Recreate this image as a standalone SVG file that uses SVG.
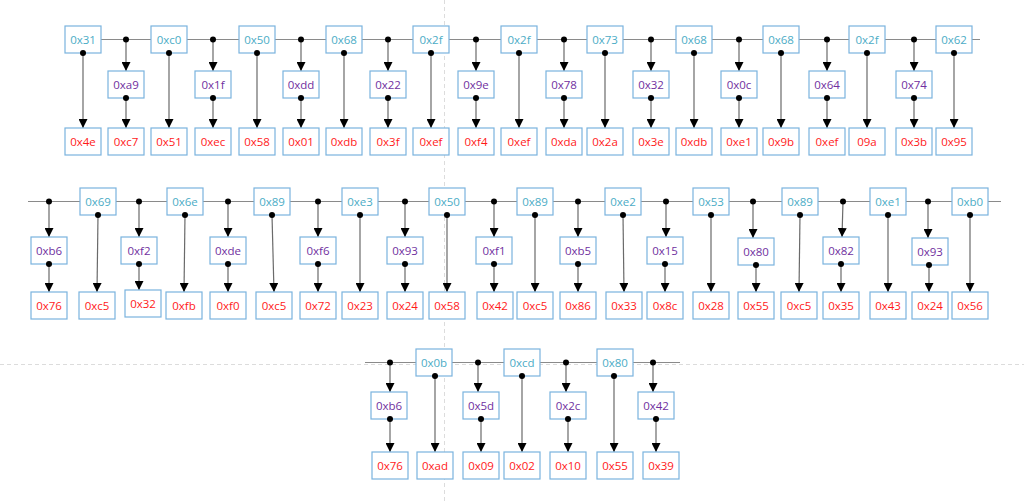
<svg xmlns="http://www.w3.org/2000/svg" width="1024" height="503" viewBox="0 0 1024 503">
<style>
.b{fill:#fff;stroke:#7ab3de;stroke-width:1.2}
text{font-family:"Open Sans","Noto Sans",sans-serif;font-size:11.5px;text-anchor:middle}
.t1{fill:#4bacc6}.t2{fill:#7030a0}.t3{fill:#ff1a1a}
.h{stroke:#8a8a8a;stroke-width:1.2;fill:none}
.v{stroke:#6a6a6a;stroke-width:1.2;fill:none;marker-end:url(#ah)}
.g{stroke:#dcdcdc;stroke-width:1;stroke-dasharray:4 3;fill:none}
.d{fill:#000}
</style>
<defs>
<marker id="ah" markerUnits="userSpaceOnUse" markerWidth="10" markerHeight="9" refX="9" refY="4.5" orient="auto"><path d="M0,0 L9,4.5 L0,9 z" fill="#000"/></marker>
</defs>
<rect width="1024" height="503" fill="#fff"/>
<g id="guides">
<line class="g" x1="444.5" y1="0" x2="444.5" y2="503"/>
<line class="g" x1="0" y1="364.5" x2="1024" y2="364.5"/>
</g>
<g id="connectors">
<line class="h" x1="100" y1="39.5" x2="980" y2="39.5"/>
<line class="h" x1="28" y1="201.5" x2="1001" y2="201.5"/>
<line class="h" x1="365" y1="362.5" x2="680" y2="362.5"/>
<line class="v" x1="83" y1="53" x2="83" y2="128"/>
<line class="v" x1="169" y1="53" x2="169" y2="128"/>
<line class="v" x1="257" y1="53" x2="257" y2="128"/>
<line class="v" x1="344" y1="53" x2="344" y2="128"/>
<line class="v" x1="431" y1="53" x2="431" y2="128"/>
<line class="v" x1="519" y1="53" x2="519" y2="128"/>
<line class="v" x1="605" y1="53" x2="605" y2="128"/>
<line class="v" x1="694" y1="53" x2="694" y2="128"/>
<line class="v" x1="781" y1="53" x2="781" y2="128"/>
<line class="v" x1="867" y1="53" x2="867" y2="128"/>
<line class="v" x1="954" y1="53" x2="954" y2="128"/>
<line class="v" x1="126" y1="39.5" x2="126" y2="71"/><line class="v" x1="126" y1="98" x2="126" y2="128"/>
<line class="v" x1="213" y1="39.5" x2="213" y2="71"/><line class="v" x1="213" y1="98" x2="213" y2="128"/>
<line class="v" x1="301" y1="39.5" x2="301" y2="71"/><line class="v" x1="301" y1="98" x2="301" y2="128"/>
<line class="v" x1="388" y1="39.5" x2="388" y2="71"/><line class="v" x1="388" y1="98" x2="388" y2="128"/>
<line class="v" x1="476" y1="39.5" x2="476" y2="71"/><line class="v" x1="476" y1="98" x2="476" y2="128"/>
<line class="v" x1="564" y1="39.5" x2="564" y2="71"/><line class="v" x1="564" y1="98" x2="564" y2="128"/>
<line class="v" x1="651" y1="39.5" x2="651" y2="71"/><line class="v" x1="651" y1="98" x2="651" y2="128"/>
<line class="v" x1="739" y1="39.5" x2="739" y2="71"/><line class="v" x1="739" y1="98" x2="739" y2="128"/>
<line class="v" x1="827" y1="39.5" x2="827" y2="71"/><line class="v" x1="827" y1="98" x2="827" y2="128"/>
<line class="v" x1="914" y1="39.5" x2="914" y2="71"/><line class="v" x1="914" y1="98" x2="914" y2="128"/>
<line class="v" x1="98" y1="215" x2="97" y2="292"/>
<line class="v" x1="185" y1="215" x2="184" y2="292"/>
<line class="v" x1="272" y1="215" x2="274" y2="292"/>
<line class="v" x1="360" y1="215" x2="360" y2="292"/>
<line class="v" x1="447" y1="215" x2="447" y2="292"/>
<line class="v" x1="535" y1="215" x2="535" y2="292"/>
<line class="v" x1="623" y1="215" x2="624" y2="292"/>
<line class="v" x1="711" y1="215" x2="711" y2="292"/>
<line class="v" x1="800" y1="215" x2="799" y2="292"/>
<line class="v" x1="888" y1="215" x2="888" y2="292"/>
<line class="v" x1="970" y1="215" x2="970" y2="292"/>
<line class="v" x1="49" y1="201.5" x2="49" y2="237"/><line class="v" x1="49" y1="264" x2="49" y2="292"/>
<line class="v" x1="139" y1="201.5" x2="139" y2="237"/><line class="v" x1="139" y1="264" x2="139" y2="290"/>
<line class="v" x1="228" y1="201.5" x2="228" y2="237"/><line class="v" x1="228" y1="264" x2="228" y2="292"/>
<line class="v" x1="318" y1="201.5" x2="318" y2="237"/><line class="v" x1="318" y1="264" x2="318" y2="292"/>
<line class="v" x1="405" y1="201.5" x2="405" y2="237"/><line class="v" x1="405" y1="264" x2="405" y2="292"/>
<line class="v" x1="494" y1="201.5" x2="494" y2="237"/><line class="v" x1="494" y1="264" x2="494" y2="292"/>
<line class="v" x1="578" y1="201.5" x2="578" y2="237"/><line class="v" x1="578" y1="264" x2="578" y2="292"/>
<line class="v" x1="666" y1="201.5" x2="666" y2="237"/><line class="v" x1="665" y1="264" x2="665" y2="292"/>
<line class="v" x1="753" y1="201.5" x2="753" y2="238"/><line class="v" x1="756" y1="265" x2="756" y2="292"/>
<line class="v" x1="843" y1="201.5" x2="842" y2="237"/><line class="v" x1="841" y1="264" x2="841" y2="292"/>
<line class="v" x1="928" y1="201.5" x2="928" y2="238"/><line class="v" x1="929" y1="265" x2="929" y2="292"/>
<line class="v" x1="435" y1="376" x2="435" y2="452"/>
<line class="v" x1="522" y1="376" x2="522" y2="452"/>
<line class="v" x1="614" y1="376" x2="614" y2="452"/>
<line class="v" x1="390" y1="362.5" x2="390" y2="392"/><line class="v" x1="390" y1="419" x2="390" y2="452"/>
<line class="v" x1="478" y1="362.5" x2="478" y2="392"/><line class="v" x1="481" y1="419" x2="481" y2="452"/>
<line class="v" x1="566" y1="362.5" x2="566" y2="392"/><line class="v" x1="568" y1="419" x2="568" y2="452"/>
<line class="v" x1="653" y1="362.5" x2="653" y2="392"/><line class="v" x1="656" y1="419" x2="656" y2="452"/>
</g>
<g id="nodes">
<g id="r1t0"><rect class="b" x="65" y="26" width="36" height="27"/><text class="t1" x="83" y="43.5">0x31</text></g>
<g id="r1t1"><rect class="b" x="151" y="26" width="36" height="27"/><text class="t1" x="169" y="43.5">0xc0</text></g>
<g id="r1t2"><rect class="b" x="239" y="26" width="36" height="27"/><text class="t1" x="257" y="43.5">0x50</text></g>
<g id="r1t3"><rect class="b" x="326" y="26" width="36" height="27"/><text class="t1" x="344" y="43.5">0x68</text></g>
<g id="r1t4"><rect class="b" x="413" y="26" width="36" height="27"/><text class="t1" x="431" y="43.5">0x2f</text></g>
<g id="r1t5"><rect class="b" x="501" y="26" width="36" height="27"/><text class="t1" x="519" y="43.5">0x2f</text></g>
<g id="r1t6"><rect class="b" x="587" y="26" width="36" height="27"/><text class="t1" x="605" y="43.5">0x73</text></g>
<g id="r1t7"><rect class="b" x="676" y="26" width="36" height="27"/><text class="t1" x="694" y="43.5">0x68</text></g>
<g id="r1t8"><rect class="b" x="763" y="26" width="36" height="27"/><text class="t1" x="781" y="43.5">0x68</text></g>
<g id="r1t9"><rect class="b" x="849" y="26" width="36" height="27"/><text class="t1" x="867" y="43.5">0x2f</text></g>
<g id="r1t10"><rect class="b" x="936" y="26" width="36" height="27"/><text class="t1" x="954" y="43.5">0x62</text></g>
<g id="r1m0"><rect class="b" x="108" y="71" width="36" height="27"/><text class="t2" x="126" y="88.5">0xa9</text></g>
<g id="r1m1"><rect class="b" x="195" y="71" width="36" height="27"/><text class="t2" x="213" y="88.5">0x1f</text></g>
<g id="r1m2"><rect class="b" x="283" y="71" width="36" height="27"/><text class="t2" x="301" y="88.5">0xdd</text></g>
<g id="r1m3"><rect class="b" x="370" y="71" width="36" height="27"/><text class="t2" x="388" y="88.5">0x22</text></g>
<g id="r1m4"><rect class="b" x="458" y="71" width="36" height="27"/><text class="t2" x="476" y="88.5">0x9e</text></g>
<g id="r1m5"><rect class="b" x="546" y="71" width="36" height="27"/><text class="t2" x="564" y="88.5">0x78</text></g>
<g id="r1m6"><rect class="b" x="633" y="71" width="36" height="27"/><text class="t2" x="651" y="88.5">0x32</text></g>
<g id="r1m7"><rect class="b" x="721" y="71" width="36" height="27"/><text class="t2" x="739" y="88.5">0x0c</text></g>
<g id="r1m8"><rect class="b" x="809" y="71" width="36" height="27"/><text class="t2" x="827" y="88.5">0x64</text></g>
<g id="r1m9"><rect class="b" x="896" y="71" width="36" height="27"/><text class="t2" x="914" y="88.5">0x74</text></g>
<g id="r1b0"><rect class="b" x="65" y="128" width="36" height="27"/><text class="t3" x="83" y="145.5">0x4e</text></g>
<g id="r1b1"><rect class="b" x="108" y="128" width="36" height="27"/><text class="t3" x="126" y="145.5">0xc7</text></g>
<g id="r1b2"><rect class="b" x="151" y="128" width="36" height="27"/><text class="t3" x="169" y="145.5">0x51</text></g>
<g id="r1b3"><rect class="b" x="195" y="128" width="36" height="27"/><text class="t3" x="213" y="145.5">0xec</text></g>
<g id="r1b4"><rect class="b" x="239" y="128" width="36" height="27"/><text class="t3" x="257" y="145.5">0x58</text></g>
<g id="r1b5"><rect class="b" x="283" y="128" width="36" height="27"/><text class="t3" x="301" y="145.5">0x01</text></g>
<g id="r1b6"><rect class="b" x="326" y="128" width="36" height="27"/><text class="t3" x="344" y="145.5">0xdb</text></g>
<g id="r1b7"><rect class="b" x="370" y="128" width="36" height="27"/><text class="t3" x="388" y="145.5">0x3f</text></g>
<g id="r1b8"><rect class="b" x="413" y="128" width="36" height="27"/><text class="t3" x="431" y="145.5">0xef</text></g>
<g id="r1b9"><rect class="b" x="458" y="128" width="36" height="27"/><text class="t3" x="476" y="145.5">0xf4</text></g>
<g id="r1b10"><rect class="b" x="501" y="128" width="36" height="27"/><text class="t3" x="519" y="145.5">0xef</text></g>
<g id="r1b11"><rect class="b" x="546" y="128" width="36" height="27"/><text class="t3" x="564" y="145.5">0xda</text></g>
<g id="r1b12"><rect class="b" x="587" y="128" width="36" height="27"/><text class="t3" x="605" y="145.5">0x2a</text></g>
<g id="r1b13"><rect class="b" x="633" y="128" width="36" height="27"/><text class="t3" x="651" y="145.5">0x3e</text></g>
<g id="r1b14"><rect class="b" x="676" y="128" width="36" height="27"/><text class="t3" x="694" y="145.5">0xdb</text></g>
<g id="r1b15"><rect class="b" x="721" y="128" width="36" height="27"/><text class="t3" x="739" y="145.5">0xe1</text></g>
<g id="r1b16"><rect class="b" x="763" y="128" width="36" height="27"/><text class="t3" x="781" y="145.5">0x9b</text></g>
<g id="r1b17"><rect class="b" x="809" y="128" width="36" height="27"/><text class="t3" x="827" y="145.5">0xef</text></g>
<g id="r1b18"><rect class="b" x="849" y="128" width="36" height="27"/><text class="t3" x="867" y="145.5">09a</text></g>
<g id="r1b19"><rect class="b" x="896" y="128" width="36" height="27"/><text class="t3" x="914" y="145.5">0x3b</text></g>
<g id="r1b20"><rect class="b" x="936" y="128" width="36" height="27"/><text class="t3" x="954" y="145.5">0x95</text></g>
<g id="r2t0"><rect class="b" x="80" y="188" width="36" height="27"/><text class="t1" x="98" y="205.5">0x69</text></g>
<g id="r2t1"><rect class="b" x="167" y="188" width="36" height="27"/><text class="t1" x="185" y="205.5">0x6e</text></g>
<g id="r2t2"><rect class="b" x="254" y="188" width="36" height="27"/><text class="t1" x="272" y="205.5">0x89</text></g>
<g id="r2t3"><rect class="b" x="342" y="188" width="36" height="27"/><text class="t1" x="360" y="205.5">0xe3</text></g>
<g id="r2t4"><rect class="b" x="429" y="188" width="36" height="27"/><text class="t1" x="447" y="205.5">0x50</text></g>
<g id="r2t5"><rect class="b" x="517" y="188" width="36" height="27"/><text class="t1" x="535" y="205.5">0x89</text></g>
<g id="r2t6"><rect class="b" x="605" y="188" width="36" height="27"/><text class="t1" x="623" y="205.5">0xe2</text></g>
<g id="r2t7"><rect class="b" x="693" y="188" width="36" height="27"/><text class="t1" x="711" y="205.5">0x53</text></g>
<g id="r2t8"><rect class="b" x="782" y="188" width="36" height="27"/><text class="t1" x="800" y="205.5">0x89</text></g>
<g id="r2t9"><rect class="b" x="870" y="188" width="36" height="27"/><text class="t1" x="888" y="205.5">0xe1</text></g>
<g id="r2t10"><rect class="b" x="952" y="188" width="36" height="27"/><text class="t1" x="970" y="205.5">0xb0</text></g>
<g id="r2m0"><rect class="b" x="31" y="237" width="36" height="27"/><text class="t2" x="49" y="254.5">0xb6</text></g>
<g id="r2m1"><rect class="b" x="121" y="237" width="36" height="27"/><text class="t2" x="139" y="254.5">0xf2</text></g>
<g id="r2m2"><rect class="b" x="210" y="237" width="36" height="27"/><text class="t2" x="228" y="254.5">0xde</text></g>
<g id="r2m3"><rect class="b" x="300" y="237" width="36" height="27"/><text class="t2" x="318" y="254.5">0xf6</text></g>
<g id="r2m4"><rect class="b" x="387" y="237" width="36" height="27"/><text class="t2" x="405" y="254.5">0x93</text></g>
<g id="r2m5"><rect class="b" x="476" y="237" width="36" height="27"/><text class="t2" x="494" y="254.5">0xf1</text></g>
<g id="r2m6"><rect class="b" x="560" y="237" width="36" height="27"/><text class="t2" x="578" y="254.5">0xb5</text></g>
<g id="r2m7"><rect class="b" x="647" y="237" width="36" height="27"/><text class="t2" x="665" y="254.5">0x15</text></g>
<g id="r2m8"><rect class="b" x="738" y="238" width="36" height="27"/><text class="t2" x="756" y="255.5">0x80</text></g>
<g id="r2m9"><rect class="b" x="823" y="237" width="36" height="27"/><text class="t2" x="841" y="254.5">0x82</text></g>
<g id="r2m10"><rect class="b" x="912" y="238" width="36" height="27"/><text class="t2" x="930" y="255.5">0x93</text></g>
<g id="r2b0"><rect class="b" x="31" y="292" width="36" height="27"/><text class="t3" x="49" y="309.5">0x76</text></g>
<g id="r2b1"><rect class="b" x="79" y="292" width="36" height="27"/><text class="t3" x="97" y="309.5">0xc5</text></g>
<g id="r2b2"><rect class="b" x="125" y="290" width="36" height="27"/><text class="t3" x="143" y="307.5">0x32</text></g>
<g id="r2b3"><rect class="b" x="166" y="292" width="36" height="27"/><text class="t3" x="184" y="309.5">0xfb</text></g>
<g id="r2b4"><rect class="b" x="210" y="292" width="36" height="27"/><text class="t3" x="228" y="309.5">0xf0</text></g>
<g id="r2b5"><rect class="b" x="256" y="292" width="36" height="27"/><text class="t3" x="274" y="309.5">0xc5</text></g>
<g id="r2b6"><rect class="b" x="300" y="292" width="36" height="27"/><text class="t3" x="318" y="309.5">0x72</text></g>
<g id="r2b7"><rect class="b" x="342" y="292" width="36" height="27"/><text class="t3" x="360" y="309.5">0x23</text></g>
<g id="r2b8"><rect class="b" x="387" y="292" width="36" height="27"/><text class="t3" x="405" y="309.5">0x24</text></g>
<g id="r2b9"><rect class="b" x="429" y="292" width="36" height="27"/><text class="t3" x="447" y="309.5">0x58</text></g>
<g id="r2b10"><rect class="b" x="477" y="292" width="36" height="27"/><text class="t3" x="495" y="309.5">0x42</text></g>
<g id="r2b11"><rect class="b" x="517" y="292" width="36" height="27"/><text class="t3" x="535" y="309.5">0xc5</text></g>
<g id="r2b12"><rect class="b" x="560" y="292" width="36" height="27"/><text class="t3" x="578" y="309.5">0x86</text></g>
<g id="r2b13"><rect class="b" x="606" y="292" width="36" height="27"/><text class="t3" x="624" y="309.5">0x33</text></g>
<g id="r2b14"><rect class="b" x="647" y="292" width="36" height="27"/><text class="t3" x="665" y="309.5">0x8c</text></g>
<g id="r2b15"><rect class="b" x="693" y="292" width="36" height="27"/><text class="t3" x="711" y="309.5">0x28</text></g>
<g id="r2b16"><rect class="b" x="738" y="292" width="36" height="27"/><text class="t3" x="756" y="309.5">0x55</text></g>
<g id="r2b17"><rect class="b" x="781" y="292" width="36" height="27"/><text class="t3" x="799" y="309.5">0xc5</text></g>
<g id="r2b18"><rect class="b" x="823" y="292" width="36" height="27"/><text class="t3" x="841" y="309.5">0x35</text></g>
<g id="r2b19"><rect class="b" x="870" y="292" width="36" height="27"/><text class="t3" x="888" y="309.5">0x43</text></g>
<g id="r2b20"><rect class="b" x="912" y="292" width="36" height="27"/><text class="t3" x="930" y="309.5">0x24</text></g>
<g id="r2b21"><rect class="b" x="952" y="292" width="36" height="27"/><text class="t3" x="970" y="309.5">0x56</text></g>
<g id="r3t0"><rect class="b" x="416" y="349" width="36" height="27"/><text class="t1" x="434" y="366.5">0x0b</text></g>
<g id="r3t1"><rect class="b" x="504" y="349" width="36" height="27"/><text class="t1" x="522" y="366.5">0xcd</text></g>
<g id="r3t2"><rect class="b" x="597" y="349" width="36" height="27"/><text class="t1" x="615" y="366.5">0x80</text></g>
<g id="r3m0"><rect class="b" x="371" y="392" width="36" height="27"/><text class="t2" x="389" y="409.5">0xb6</text></g>
<g id="r3m1"><rect class="b" x="463" y="392" width="36" height="27"/><text class="t2" x="481" y="409.5">0x5d</text></g>
<g id="r3m2"><rect class="b" x="550" y="392" width="36" height="27"/><text class="t2" x="568" y="409.5">0x2c</text></g>
<g id="r3m3"><rect class="b" x="638" y="392" width="36" height="27"/><text class="t2" x="656" y="409.5">0x42</text></g>
<g id="r3b0"><rect class="b" x="372" y="452" width="36" height="27"/><text class="t3" x="390" y="469.5">0x76</text></g>
<g id="r3b1"><rect class="b" x="417" y="452" width="36" height="27"/><text class="t3" x="435" y="469.5">0xad</text></g>
<g id="r3b2"><rect class="b" x="463" y="452" width="36" height="27"/><text class="t3" x="481" y="469.5">0x09</text></g>
<g id="r3b3"><rect class="b" x="504" y="452" width="36" height="27"/><text class="t3" x="522" y="469.5">0x02</text></g>
<g id="r3b4"><rect class="b" x="550" y="452" width="36" height="27"/><text class="t3" x="568" y="469.5">0x10</text></g>
<g id="r3b5"><rect class="b" x="597" y="452" width="36" height="27"/><text class="t3" x="615" y="469.5">0x55</text></g>
<g id="r3b6"><rect class="b" x="643" y="452" width="36" height="27"/><text class="t3" x="661" y="469.5">0x39</text></g>
</g>
<g id="dots">
<circle class="d" cx="83" cy="53" r="3"/><circle class="d" cx="169" cy="53" r="3"/><circle class="d" cx="257" cy="53" r="3"/><circle class="d" cx="344" cy="53" r="3"/><circle class="d" cx="431" cy="53" r="3"/><circle class="d" cx="519" cy="53" r="3"/><circle class="d" cx="605" cy="53" r="3"/><circle class="d" cx="694" cy="53" r="3"/><circle class="d" cx="781" cy="53" r="3"/><circle class="d" cx="867" cy="53" r="3"/><circle class="d" cx="954" cy="53" r="3"/>
<circle class="d" cx="126" cy="39.5" r="3"/><circle class="d" cx="213" cy="39.5" r="3"/><circle class="d" cx="301" cy="39.5" r="3"/><circle class="d" cx="388" cy="39.5" r="3"/><circle class="d" cx="476" cy="39.5" r="3"/><circle class="d" cx="564" cy="39.5" r="3"/><circle class="d" cx="651" cy="39.5" r="3"/><circle class="d" cx="739" cy="39.5" r="3"/><circle class="d" cx="827" cy="39.5" r="3"/><circle class="d" cx="914" cy="39.5" r="3"/>
<circle class="d" cx="126" cy="98" r="3"/><circle class="d" cx="213" cy="98" r="3"/><circle class="d" cx="301" cy="98" r="3"/><circle class="d" cx="388" cy="98" r="3"/><circle class="d" cx="476" cy="98" r="3"/><circle class="d" cx="564" cy="98" r="3"/><circle class="d" cx="651" cy="98" r="3"/><circle class="d" cx="739" cy="98" r="3"/><circle class="d" cx="827" cy="98" r="3"/><circle class="d" cx="914" cy="98" r="3"/>
<circle class="d" cx="98" cy="215" r="3"/><circle class="d" cx="185" cy="215" r="3"/><circle class="d" cx="272" cy="215" r="3"/><circle class="d" cx="360" cy="215" r="3"/><circle class="d" cx="447" cy="215" r="3"/><circle class="d" cx="535" cy="215" r="3"/><circle class="d" cx="623" cy="215" r="3"/><circle class="d" cx="711" cy="215" r="3"/><circle class="d" cx="800" cy="215" r="3"/><circle class="d" cx="888" cy="215" r="3"/><circle class="d" cx="970" cy="215" r="3"/>
<circle class="d" cx="49" cy="201.5" r="3"/><circle class="d" cx="139" cy="201.5" r="3"/><circle class="d" cx="228" cy="201.5" r="3"/><circle class="d" cx="318" cy="201.5" r="3"/><circle class="d" cx="405" cy="201.5" r="3"/><circle class="d" cx="494" cy="201.5" r="3"/><circle class="d" cx="578" cy="201.5" r="3"/><circle class="d" cx="666" cy="201.5" r="3"/><circle class="d" cx="753" cy="201.5" r="3"/><circle class="d" cx="843" cy="201.5" r="3"/><circle class="d" cx="928" cy="201.5" r="3"/>
<circle class="d" cx="49" cy="264" r="3"/><circle class="d" cx="139" cy="264" r="3"/><circle class="d" cx="228" cy="264" r="3"/><circle class="d" cx="318" cy="264" r="3"/><circle class="d" cx="405" cy="264" r="3"/><circle class="d" cx="494" cy="264" r="3"/><circle class="d" cx="578" cy="264" r="3"/><circle class="d" cx="665" cy="264" r="3"/><circle class="d" cx="756" cy="265" r="3"/><circle class="d" cx="841" cy="264" r="3"/><circle class="d" cx="929" cy="265" r="3"/>
<circle class="d" cx="435" cy="376" r="3"/><circle class="d" cx="522" cy="376" r="3"/><circle class="d" cx="614" cy="376" r="3"/>
<circle class="d" cx="390" cy="362.5" r="3"/><circle class="d" cx="478" cy="362.5" r="3"/><circle class="d" cx="566" cy="362.5" r="3"/><circle class="d" cx="653" cy="362.5" r="3"/>
<circle class="d" cx="390" cy="419" r="3"/><circle class="d" cx="481" cy="419" r="3"/><circle class="d" cx="568" cy="419" r="3"/><circle class="d" cx="656" cy="419" r="3"/>
</g>
</svg>
